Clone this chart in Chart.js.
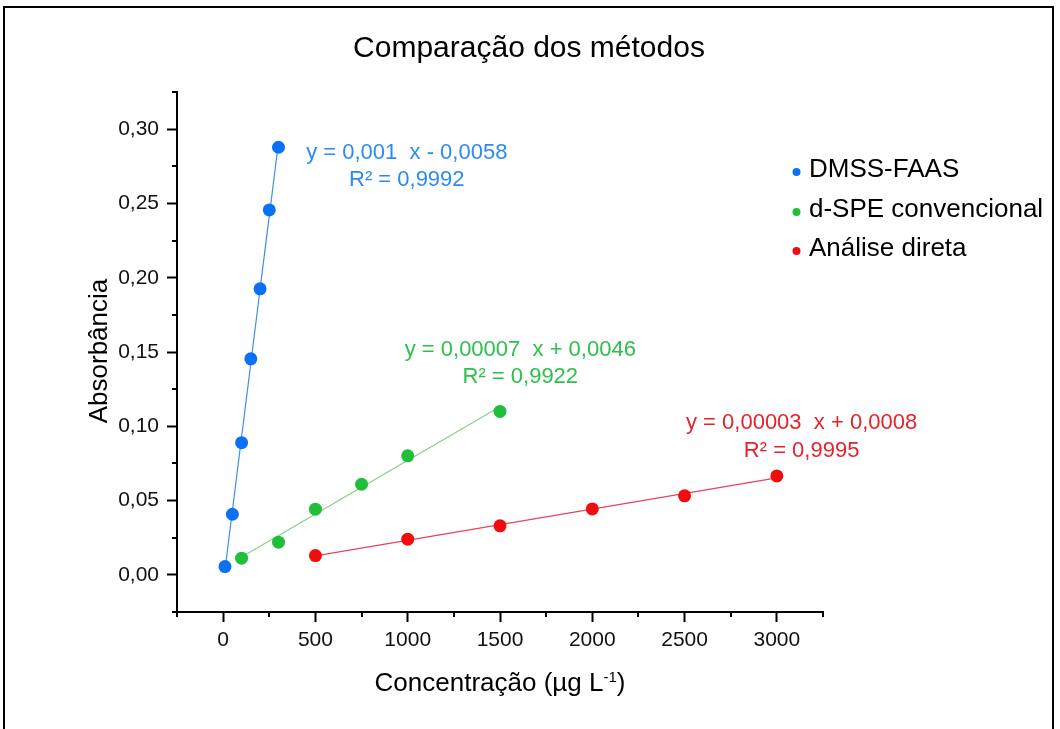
<!DOCTYPE html>
<html lang="pt">
<head>
    <meta charset="UTF-8">
    <title>Comparação dos métodos</title>
    <script src="https://cdn.jsdelivr.net/npm/chart.js"></script>
    <style>
        body {
            margin: 0;
            background: #fff;
        }
        #wrap {
            width: 1060px;
            height: 729px;
        }
    </style>
</head>
<body>
    <div id="wrap"><canvas id="curvas" width="1060" height="729"></canvas></div>

    <script>
        // Curvas de calibração
        const seriesNames = ['DMSS-FAAS', 'd-SPE convencional', 'Análise direta'];

        const dmssX = [10, 50, 100, 150, 200, 250, 300];
        const dmssY = [0.0056, 0.0408, 0.0890, 0.1454, 0.1925, 0.2456, 0.2878];

        const dspeX = [100, 300, 500, 750, 1000, 1500];
        const dspeY = [0.0112, 0.0220, 0.0442, 0.0610, 0.0801, 0.1100];

        const diretaX = [500, 1000, 1500, 2000, 2500, 3000];
        const diretaY = [0.0130, 0.0240, 0.0330, 0.0444, 0.0532, 0.0666];

        const equations = [
            ['y = 0,001  x - 0,0058', 'R² = 0,9992'],
            ['y = 0,00007  x + 0,0046', 'R² = 0,9922'],
            ['y = 0,00003  x + 0,0008', 'R² = 0,9995']
        ];

        const xTicks = [0, 500, 1000, 1500, 2000, 2500, 3000];
        const xMinorTicks = [-250, 250, 750, 1250, 1750, 2250, 2750, 3250];
        const yTicks = [0, 0.05, 0.10, 0.15, 0.20, 0.25, 0.30];
        const yMinorTicks = [-0.025, 0.025, 0.075, 0.125, 0.175, 0.225, 0.275, 0.325];

        // cores
        const pointColors = ['#0a72f2', '#1fbf3c', '#f20c0c'];
        const lineColors = ['#3f8ee8', '#86cf8c', '#e8445a'];
        const textColors = ['#2a8cf2', '#2dc04c', '#e8222c'];

        // posição das equações (coordenadas do gráfico)
        const eqAnchors = [
            { x: 995, y: 0.280 },
            { x: 1610, y: 0.1473 },
            { x: 3134, y: 0.098 }
        ];

        const FONT = '"Liberation Sans", Arial, Helvetica, sans-serif';
        Chart.defaults.font.family = FONT;
        Chart.defaults.color = '#000';

        function linearFit(xs, ys) {
            const n = xs.length;
            const mx = xs.reduce((a, b) => a + b, 0) / n;
            const my = ys.reduce((a, b) => a + b, 0) / n;
            let sxy = 0, sxx = 0;
            for (let i = 0; i < n; i++) {
                sxy += (xs[i] - mx) * (ys[i] - my);
                sxx += (xs[i] - mx) * (xs[i] - mx);
            }
            const m = sxy / sxx;
            return { m: m, b: my - m * mx };
        }

        function fitLine(xs, ys) {
            const f = linearFit(xs, ys);
            const x0 = Math.min(...xs), x1 = Math.max(...xs);
            return [{ x: x0, y: f.m * x0 + f.b }, { x: x1, y: f.m * x1 + f.b }];
        }

        function toPoints(xs, ys) {
            return xs.map((x, i) => ({ x: x, y: ys[i] }));
        }

        const allX = [dmssX, dspeX, diretaX];
        const allY = [dmssY, dspeY, diretaY];

        const datasets = [];
        for (let i = 0; i < 3; i++) {
            datasets.push({
                label: seriesNames[i],
                data: toPoints(allX[i], allY[i]),
                backgroundColor: pointColors[i],
                borderColor: pointColors[i],
                pointRadius: 6.5,
                pointBorderWidth: 0,
                showLine: false,
                order: 0
            });
            datasets.push({
                label: seriesNames[i] + ' (ajuste)',
                data: fitLine(allX[i], allY[i]),
                borderColor: lineColors[i],
                borderWidth: 1.2,
                pointRadius: 0,
                showLine: true,
                order: 1
            });
        }

        // ticks secundários, títulos, legenda, equações e moldura
        const decorPlugin = {
            id: 'decor',
            afterDraw(chart) {
                const ctx = chart.ctx;
                const xs = chart.scales.x, ys = chart.scales.y;
                const area = chart.chartArea;

                ctx.save();
                ctx.strokeStyle = '#000';
                ctx.lineWidth = 2;
                xMinorTicks.forEach(v => {
                    const px = Math.round(xs.getPixelForValue(v));
                    ctx.beginPath();
                    ctx.moveTo(px, area.bottom);
                    ctx.lineTo(px, area.bottom + 5);
                    ctx.stroke();
                });
                yMinorTicks.forEach(v => {
                    const py = Math.round(ys.getPixelForValue(v));
                    ctx.beginPath();
                    ctx.moveTo(area.left, py);
                    ctx.lineTo(area.left - 5, py);
                    ctx.stroke();
                });

                // título
                ctx.fillStyle = '#000';
                ctx.textAlign = 'center';
                ctx.textBaseline = 'alphabetic';
                ctx.font = '30px ' + FONT;
                ctx.fillText('Comparação dos métodos', 529, 57);

                // título do eixo y
                ctx.save();
                ctx.translate(106.5, 351);
                ctx.rotate(-Math.PI / 2);
                ctx.font = '26px ' + FONT;
                ctx.fillText('Absorbância', 0, 0);
                ctx.restore();

                // título do eixo x com expoente
                const cx = (area.left + area.right) / 2;
                const base = 691;
                const p1 = 'Concentração (µg L', sup = '-1', p3 = ')';
                ctx.font = '26px ' + FONT;
                const w1 = ctx.measureText(p1).width;
                const w3 = ctx.measureText(p3).width;
                ctx.font = '15px ' + FONT;
                const w2 = ctx.measureText(sup).width;
                let tx = cx - (w1 + w2 + w3) / 2;
                ctx.textAlign = 'left';
                ctx.font = '26px ' + FONT;
                ctx.fillText(p1, tx, base);
                tx += w1;
                ctx.font = '15px ' + FONT;
                ctx.fillText(sup, tx, base - 9);
                tx += w2;
                ctx.font = '26px ' + FONT;
                ctx.fillText(p3, tx, base);

                // legenda
                const legBase = [177, 217, 256];
                ctx.font = '26px ' + FONT;
                for (let i = 0; i < 3; i++) {
                    ctx.fillStyle = pointColors[i];
                    ctx.beginPath();
                    ctx.arc(796.5, legBase[i] - 5, 4, 0, Math.PI * 2);
                    ctx.fill();
                    ctx.fillStyle = '#000';
                    ctx.fillText(seriesNames[i], 809, legBase[i]);
                }

                // equações das retas
                ctx.textAlign = 'center';
                ctx.font = '22px ' + FONT;
                for (let i = 0; i < 3; i++) {
                    const ex = xs.getPixelForValue(eqAnchors[i].x);
                    const ey = ys.getPixelForValue(eqAnchors[i].y);
                    ctx.fillStyle = textColors[i];
                    ctx.fillText(equations[i][0], ex, ey);
                    ctx.fillText(equations[i][1], ex, ey + 27.4);
                }

                // moldura
                ctx.strokeStyle = '#000';
                ctx.lineWidth = 2;
                ctx.strokeRect(4, 7, 1049, 800);
                ctx.restore();
            }
        };

        const axisGrid = {
            display: true,
            drawOnChartArea: false,
            drawTicks: true,
            tickLength: 10,
            tickWidth: 2,
            tickColor: '#000',
            color: '#000'
        };

        new Chart(document.getElementById('curvas'), {
            type: 'scatter',
            data: { datasets: datasets },
            options: {
                responsive: false,
                animation: false,
                events: [],
                layout: { padding: { top: 92, right: 237, left: 0, bottom: 0 } },
                plugins: {
                    legend: { display: false },
                    tooltip: { enabled: false },
                    title: { display: false }
                },
                scales: {
                    x: {
                        type: 'linear',
                        min: -250,
                        max: 3250,
                        grid: axisGrid,
                        border: { display: true, color: '#000', width: 2 },
                        afterBuildTicks: scale => { scale.ticks = xTicks.map(v => ({ value: v })); },
                        afterFit: scale => { scale.height = 117; },
                        ticks: {
                            font: { size: 21 },
                            color: '#111',
                            padding: 6,
                            maxRotation: 0,
                            callback: v => String(v)
                        }
                    },
                    y: {
                        type: 'linear',
                        min: -0.025,
                        max: 0.325,
                        grid: axisGrid,
                        border: { display: true, color: '#000', width: 2 },
                        afterBuildTicks: scale => { scale.ticks = yTicks.map(v => ({ value: v })); },
                        afterFit: scale => { scale.width = 177; },
                        ticks: {
                            font: { size: 21 },
                            color: '#111',
                            padding: 8,
                            callback: v => v.toFixed(2).replace('.', ',')
                        }
                    }
                }
            },
            plugins: [decorPlugin]
        });
    </script>
</body>
</html>
